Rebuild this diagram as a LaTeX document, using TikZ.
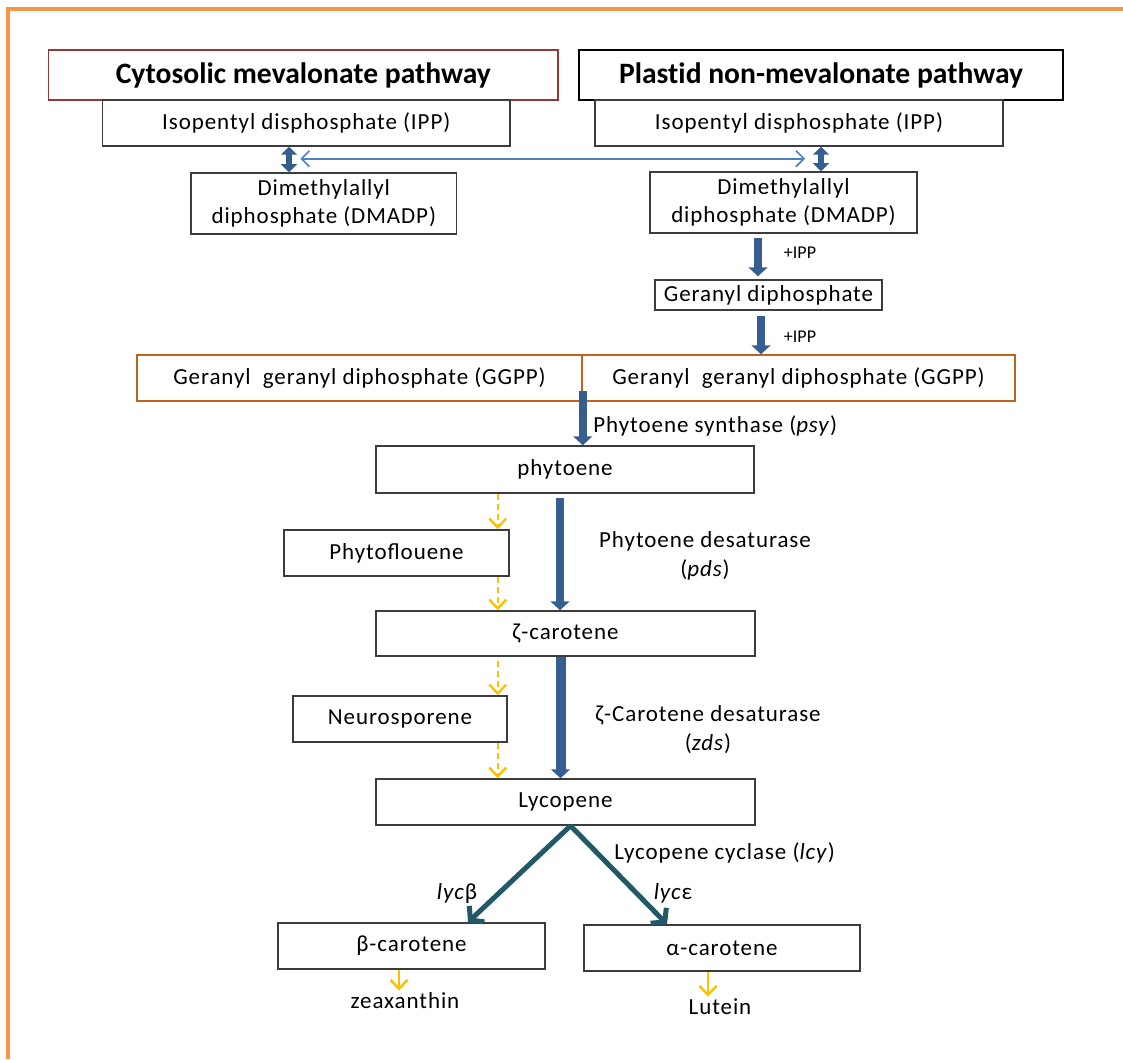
\documentclass[tikz,border=0pt]{standalone}
\usepackage{fontspec}
\setmainfont{Carlito}
\usepackage{tikz}
\usetikzlibrary{arrows.meta,positioning}

\definecolor{FrameOrange}{RGB}{247,150,70}
\definecolor{HeadRed}{RGB}{149,55,53}
\definecolor{GGBrown}{RGB}{190,100,30}
\definecolor{PathBlue}{RGB}{54,95,145}
\definecolor{LinkBlue}{RGB}{79,129,189}
\definecolor{CycTeal}{RGB}{33,89,104}
\definecolor{SideYellow}{RGB}{255,192,0}
\definecolor{BoxGray}{RGB}{60,60,60}

\newfontfamily\boxfont[LetterSpace=4]{Carlito}
\newfontfamily\headfont[Ligatures=NoCommon]{Carlito}

\begin{document}
\begin{tikzpicture}[x=0.5pt,y=-0.5pt]
		\tikzstyle{Box}		= [draw=BoxGray, line width=0.75pt, fill=white, inner sep=0pt, align=center, font=\boxfont\fontsize{11.5}{14}\selectfont]
		\tikzstyle{Head}	= [Box, draw=black, font=\headfont\fontsize{14.8}{16}\selectfont\bfseries]
		\tikzstyle{GG}		= [Box, draw=GGBrown]
		\tikzstyle{Label}	= [inner sep=1pt, align=center, font=\boxfont\fontsize{11.5}{14.5}\selectfont]
		\tikzstyle{Note}	= [inner sep=1pt, font=\fontsize{9}{10}\selectfont]
		\tikzstyle{Main}	= [PathBlue, line width=4pt, -{Triangle[width=9.5pt,length=4.5pt]}]
		\tikzstyle{Dbl}		= [PathBlue, line width=3pt, {Triangle[width=8pt,length=4pt]}-{Triangle[width=8pt,length=4pt]}]
		\tikzstyle{Link}	= [LinkBlue, line width=0.8pt, {Straight Barb[length=4pt,width=8pt]}-{Straight Barb[length=4pt,width=8pt]}]
		\tikzstyle{Side}	= [SideYellow, line width=1.2pt, dash pattern=on 3pt off 2pt, -{Straight Barb[length=4.5pt,width=8.5pt]}]
		\tikzstyle{Short}	= [SideYellow, line width=1.2pt, -{Straight Barb[length=4.5pt,width=8.5pt]}]
		\tikzstyle{Cyc}		= [CycTeal, line width=2.5pt, -{Straight Barb[length=4.5pt,width=11pt]}]

		\useasboundingbox (0,0) rectangle (1123,1059);
		\draw [FrameOrange, line width=2pt] (8,1059) -- (8,9.5) -- (1123,9.5);

		% pathways
		\node (headL) at (303.3,75) [Head, draw=HeadRed, minimum width=254.7pt, minimum height=25pt] {Cytosolic mevalonate pathway};
		\node (headR) at (821,75) [Head, minimum width=242pt, minimum height=25pt] {Plastid non-mevalonate pathway};
		\node (ippL) at (306.3,123) [Box, minimum width=203.7pt, minimum height=23pt] {Isopentyl disphosphate (IPP)};
		\node (ippR) at (799,123) [Box, minimum width=204pt, minimum height=23pt] {Isopentyl disphosphate (IPP)};
		\node (dmaL) at (323.8,203.5) [Box, minimum width=132.8pt, minimum height=30.5pt] {Dimethylallyl\\diphosphate (DMADP)};
		\node (dmaR) at (783.5,202.5) [Box, minimum width=133.5pt, minimum height=30.5pt] {Dimethylallyl\\diphosphate (DMADP)};
		\node (gpp) at (768.5,295) [Box, minimum width=113.5pt, minimum height=15pt] {Geranyl diphosphate};
		\node (ggppL) at (359.5,378) [GG, minimum width=222.5pt, minimum height=23pt] {Geranyl\ \ geranyl diphosphate (GGPP)};
		\node (ggppR) at (798.5,378) [GG, minimum width=216.5pt, minimum height=23pt] {Geranyl\ \ geranyl diphosphate (GGPP)};

		% carotenoids
		\node (phyt) at (565,469.5) [Box, minimum width=189pt, minimum height=23.5pt] {phytoene};
		\node (pfl) at (396.5,553) [Box, minimum width=112.5pt, minimum height=23pt] {Phytoflouene};
		\node (zcar) at (565.5,633.5) [Box, minimum width=189.5pt, minimum height=22.5pt] {ζ-carotene};
		\node (neur) at (400,719) [Box, minimum width=107pt, minimum height=23pt] {Neurosporene};
		\node (lyc) at (565.5,802) [Box, minimum width=189.5pt, minimum height=23pt] {Lycopene};
		\node (bcar) at (411.5,946) [Box, minimum width=133.5pt, minimum height=23pt] {β-carotene};
		\node (acar) at (722,948) [Box, minimum width=138pt, minimum height=23pt] {α-carotene};

		% labels
		\node (ipp1) at (800,253) [Note] {+IPP};
		\node (ipp2) at (800,337) [Note] {+IPP};
		\node (psy) at (591,426) [Label, anchor=west] {Phytoene synthase (\textit{psy})};
		\node (pds) at (705,556) [Label] {Phytoene desaturase\\(\textit{pds})};
		\node (zds) at (708,730) [Label] {ζ-Carotene desaturase\\(\textit{zds})};
		\node (lcy) at (612,853) [Label, anchor=west] {Lycopene cyclase (\textit{lcy})};
		\node (lb) at (457,893) [Label] {\textit{lyc}β};
		\node (le) at (673,893) [Label] {\textit{lyc}ε};
		\node (zea) at (405,1001) [Label] {zeaxanthin};
		\node (lut) at (720,1007) [Label] {Lutein};

		% connectors
		\draw [Dbl] ([xshift=-8.65pt]ippL.south) to ([xshift=-8.65pt]ippL.south |- dmaL.north);
		\draw [Dbl] ([xshift=11pt]ippR.south) to ([xshift=11pt]ippR.south |- dmaR.north);
		\draw [Link] ([xshift=-3pt,yshift=-6pt]ippL.south) to ([xshift=3pt,yshift=-6pt]ippR.south);
		\draw [Main] ([xshift=-12.75pt,yshift=-2pt]dmaR.south) to ([xshift=-12.75pt,yshift=1.5pt]dmaR.south |- gpp.north);
		\draw [Main] ([xshift=-3.75pt,yshift=-2.5pt]gpp.south) to ([xshift=-3.75pt]gpp.south |- ggppR.north);
		\draw [Main] ([yshift=5.5pt]ggppL.south east) to (ggppL.south east |- phyt.north);
		\draw [Main] ([xshift=-2.5pt,yshift=-2pt]phyt.south) to ([xshift=-2.5pt]phyt.south |- zcar.north);
		\draw [Main, line width=5pt] ([xshift=-2.5pt]zcar.south) to ([xshift=-2.5pt]zcar.south |- lyc.north);
		\draw [Side] ([xshift=-6pt]pfl.north east |- phyt.south) to ([xshift=-6pt]pfl.north east);
		\draw [Side] ([xshift=-6pt]pfl.south east) to ([xshift=-6pt]pfl.south east |- zcar.north);
		\draw [Side] ([xshift=-5pt,yshift=-2pt]neur.north east |- zcar.south) to ([xshift=-5pt]neur.north east);
		\draw [Side] ([xshift=-5pt]neur.south east) to ([xshift=-5pt]neur.south east |- lyc.north);
		\draw [Cyc] ([xshift=2.5pt]lyc.south) to ([xshift=28.25pt]bcar.north);
		\draw [Cyc] ([xshift=2.5pt]lyc.south) to ([xshift=-27.5pt]acar.north);
		\draw [Short] ([xshift=-6.25pt]bcar.south) to ([xshift=-6.25pt]bcar.south |- zea.north);
		\draw [Short] ([xshift=-7pt]acar.south) to ([xshift=-7pt]acar.south |- lut.north);
	\end{tikzpicture}
\end{document}
